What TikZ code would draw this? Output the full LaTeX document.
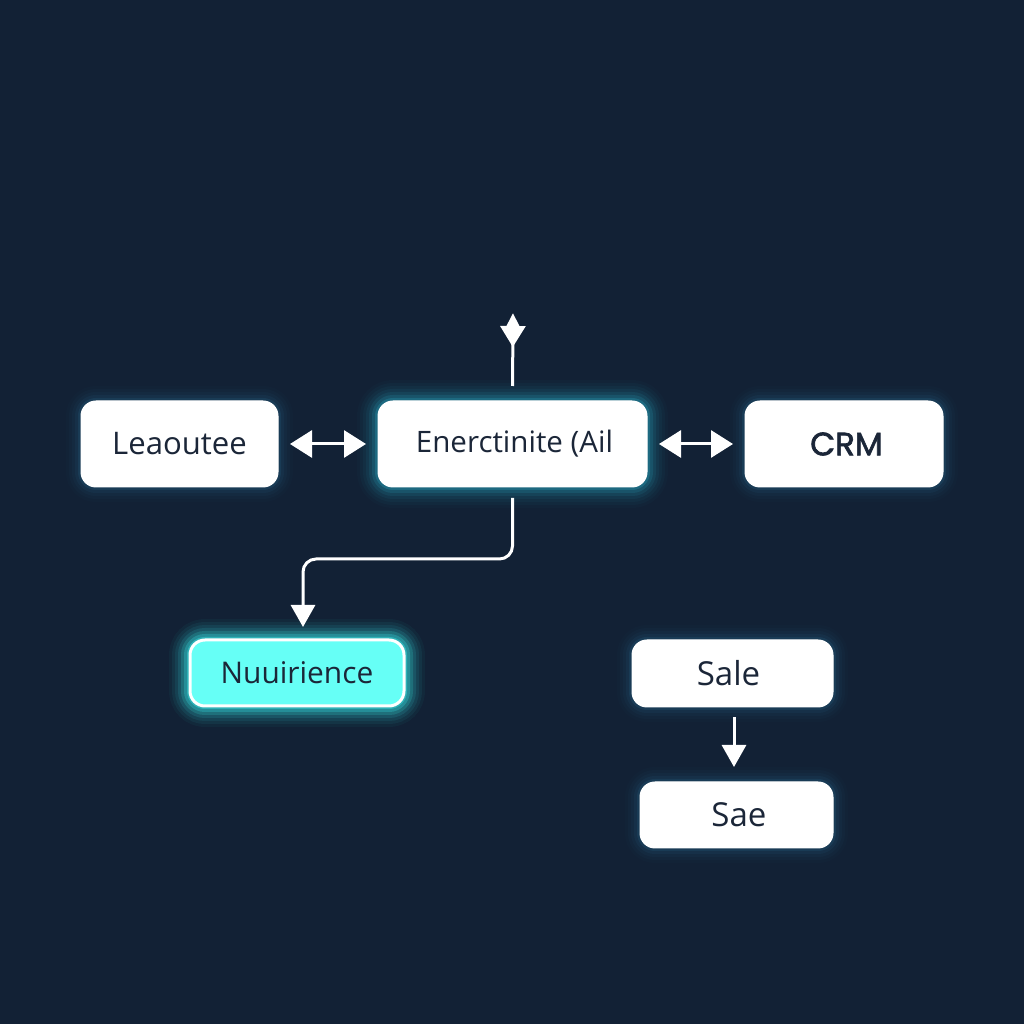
\documentclass[tikz,border=0pt]{standalone}
\usepackage{fontspec}
\setmainfont{Open Sans}
\newfontfamily\crmfont[FakeBold=2]{Poppins}
\usetikzlibrary{positioning, arrows.meta}
\definecolor{bgnavy}{HTML}{122135}
\definecolor{inktext}{HTML}{1B2638}
\definecolor{aqua}{HTML}{66FFF6}
\definecolor{glowteal}{HTML}{2FC4DC}
\definecolor{glowblue}{HTML}{3A9CC8}
\definecolor{glowaqua}{HTML}{3DF2F2}

\begin{document}
\begin{tikzpicture} [node distance=1cm]
    \tikzset{
      every node/.style={text=inktext},
      size/.style={font=\fontsize{#1}{10}\selectfont},
      halo/.style={
        preaction={draw=#1, fill=none, line width=.42cm, opacity=.02},
        preaction={draw=#1, fill=none, line width=.36cm, opacity=.03},
        preaction={draw=#1, fill=none, line width=.30cm, opacity=.04},
        preaction={draw=#1, fill=none, line width=.24cm, opacity=.06},
        preaction={draw=#1, fill=none, line width=.18cm, opacity=.09},
        preaction={draw=#1, fill=none, line width=.12cm, opacity=.13},
        preaction={draw=#1, fill=none, line width=.06cm, opacity=.20}
      },
      softhalo/.style={
        preaction={draw=#1, fill=none, line width=.30cm, opacity=.02},
        preaction={draw=#1, fill=none, line width=.24cm, opacity=.03},
        preaction={draw=#1, fill=none, line width=.18cm, opacity=.04},
        preaction={draw=#1, fill=none, line width=.12cm, opacity=.06},
        preaction={draw=#1, fill=none, line width=.06cm, opacity=.10}
      },
      card/.style={draw=white, fill=white, line width=.01cm, rounded corners=.15cm,
        inner sep=0pt, outer sep=0pt},
      link/.style={draw=white, line width=.03cm, -{Triangle[length=.22cm, width=.24cm]}},
      twoway/.style={draw=white, line width=.03cm, shorten <=.12cm, shorten >=.12cm,
        {Triangle[length=.22cm, width=.27cm]}-{Triangle[length=.22cm, width=.27cm]}}
    }
    \useasboundingbox[fill=bgnavy] (0,0) rectangle (10.24,10.24);

    \node[card, softhalo=glowblue, size=8.85, minimum width=1.97cm, minimum height=.86cm] (leaoutee) at (1.795,5.80) {Leaoutee};
    \node[card, halo=glowteal, size=8.4, minimum width=2.69cm, minimum height=.86cm, right = of leaoutee] (enter) {\hspace{.04cm}Enerctinite (Ail};
    \node[card, softhalo=glowblue, minimum width=1.98cm, minimum height=.86cm, right = .98cm of enter, font=\fontsize{9.2}{10}\selectfont\crmfont] (crm) {\hspace{.05cm}CRM};

    \node[card, halo=glowaqua, halo=glowaqua, fill=aqua, size=8.5, line width=.03cm, minimum width=2.14cm, minimum height=.66cm] (nuuri) at (2.97,3.51) {Nuuirience};

    \node[card, softhalo=glowblue, size=9.4, minimum width=2.01cm, minimum height=.67cm] (sale) at (7.325,3.505) {Sale\kern.08cm};
    \node[card, softhalo=glowblue, size=9.4, minimum width=1.93cm, minimum height=.66cm, below = .75cm of sale.south east, anchor=north east] (sae) {\hspace{.05cm}Sae};

    \coordinate (uptip) at (5.13,7.11);
    \coordinate (elbow) at (3.03,4.65);

    \draw[twoway] (leaoutee) to (enter);
    \draw[twoway] (enter) to (crm);
    \draw[white, line width=.03cm, shorten <=.15cm, -{Triangle[reversed, length=.21cm, width=.25cm] Triangle[length=.13cm, width=.12cm]}] (enter.north) to (uptip);
    \draw[link, rounded corners=.13cm, shorten <=.11cm, shorten >=.13cm] (enter.south) |- (elbow) -- (elbow |- nuuri.north);
    \draw[link, shorten <=.10cm, shorten >=.15cm] ([xshift=.015cm]sale.south) to ([xshift=.015cm]sale.south |- sae.north);
  \end{tikzpicture}
\end{document}
